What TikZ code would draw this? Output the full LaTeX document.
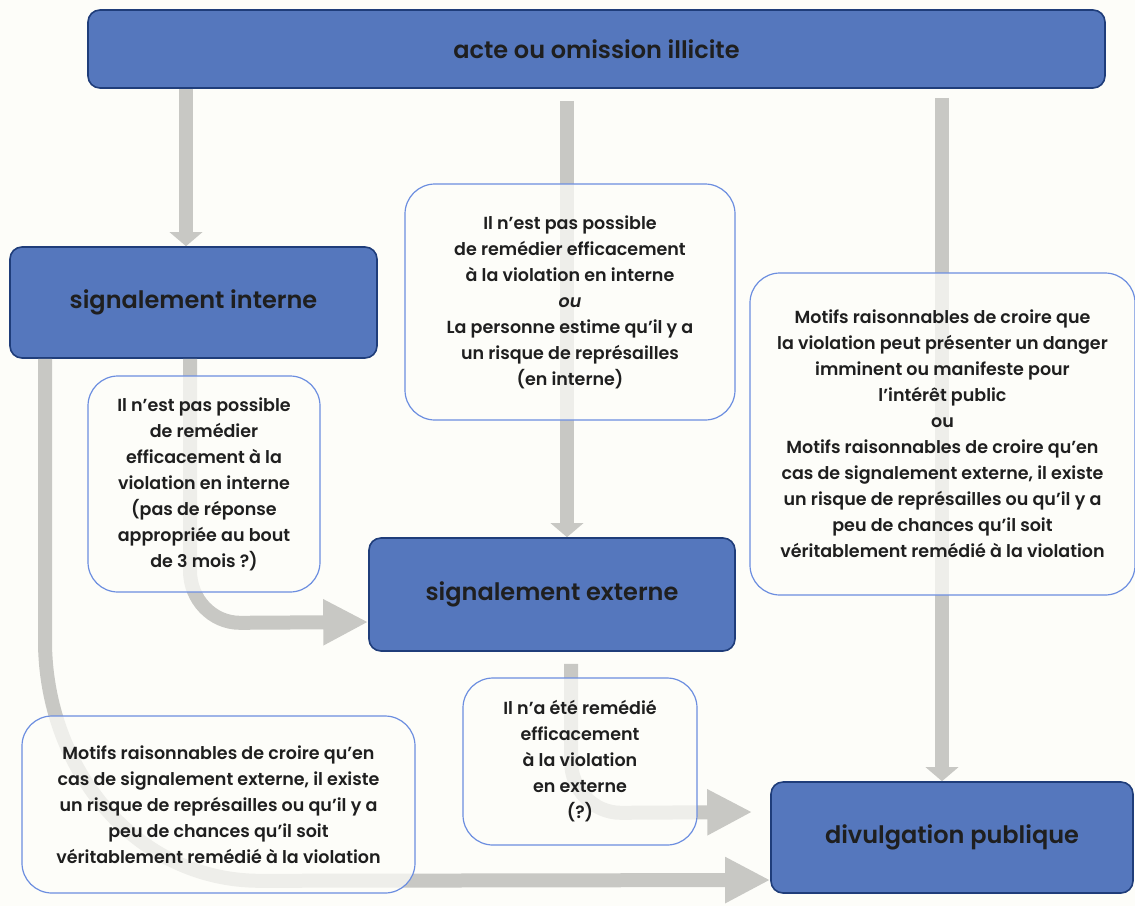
\documentclass[tikz,border=0pt]{standalone}
\usepackage{fontspec}
\setmainfont{Poppins}[BoldFont={Poppins SemiBold},ItalicFont={Poppins Italic},BoldItalicFont={Poppins SemiBold Italic}]
\usetikzlibrary{arrows.meta}
\definecolor{boxblue}{HTML}{5577BD}
\definecolor{boxline}{HTML}{1F3D7A}
\definecolor{noteline}{HTML}{6C8EE0}
\definecolor{flowgray}{HTML}{C8C8C4}
\definecolor{paper}{HTML}{FDFDF9}
\begin{document}
\begin{tikzpicture}[x=1pt,y=-1pt,
	stage/.style={ draw=boxline, line width=1.6pt, fill=boxblue, rounded corners=12pt, inner sep=0pt,
		font=\fontsize{24}{28}\selectfont\bfseries, text=black!88 },
	note/.style={ draw=noteline, line width=1.2pt, fill=paper, fill opacity=0.72, text opacity=1,
		rounded corners=30pt, inner sep=0pt, align=center,
		font=\fontsize{17.5}{26}\selectfont\bfseries, text=black!88 },
	flow/.style={ draw=flowgray, line width=14pt },
	tipsmall/.style={ -{Triangle[length=14pt,width=32pt]} },
	tipbig/.style={ -{Triangle[length=45pt,width=43pt]} }
]

\useasboundingbox[fill=paper] (0,0) rectangle (1135,906);

\node[stage, minimum width=1017pt, minimum height=78pt] at (596.5,49) (acte) {acte ou omission illicite};
\node[stage, minimum width=367pt, minimum height=111pt] at (193.5,302.5) (sigint) {signalement interne};
\node[stage, minimum width=366pt, minimum height=113pt] at (552,594.5) (sigext) {signalement externe};
\node[stage, minimum width=362pt, minimum height=111pt] at (952,837.5) (divpub) {divulgation publique};

% arrows go under the notes
\draw[flow,tipsmall] ([xshift=-410.5pt]acte.south) -- ([xshift=-7.5pt]sigint.north);
\draw[flow,tipsmall] ([xshift=-29.5pt,yshift=-12pt]acte.south) -- ([xshift=15pt]sigext.north);
\draw[flow,tipsmall] ([xshift=345.5pt,yshift=-9pt]acte.south) -- ([xshift=-10pt]divpub.north);
\draw[flow,tipbig] ([xshift=-3.5pt]sigint.south) -- ++(0,212)
  to[out=-90,in=180] ++(50,52) -- ([yshift=-27.5pt]sigext.west);
\draw[flow,tipbig] ([xshift=-148.5pt]sigint.south) -- ++(0,282)
  to[out=-90,in=180] ++(215,240) -- ([yshift=-42.5pt]divpub.west);
\draw[flow,tipbig] ([xshift=19pt,yshift=-12pt]sigext.south) -- ++(0,97)
  to[out=-90,in=180] ++(50,52) -- ([xshift=-18pt,yshift=25.5pt]divpub.west);

\node[note, minimum width=330pt, minimum height=236pt] at (570,302) (nointerne) {Il n’est pas possible\\de remédier efficacement\\à la violation en interne\\\textit{ou}\\La personne estime qu’il y a\\un risque de représailles\\(en interne)};
\node[note, minimum width=232pt, minimum height=216pt] at (204,484) (delai) {Il n’est pas possible\\de remédier\\efficacement à la\\violation en interne\\(pas de réponse\\appropriée au bout\\de 3 mois ?)};
\node[note, minimum width=385pt, minimum height=322pt] at (942.5,434) (danger) {Motifs raisonnables de croire que\\la violation peut présenter un danger\\imminent ou manifeste pour\\l’intérêt public\\ou\\Motifs raisonnables de croire qu’en\\cas de signalement externe, il existe\\un risque de représailles ou qu’il y a\\peu de chances qu’il soit\\véritablement remédié à la violation};
\node[note, minimum width=393pt, minimum height=177pt] at (218.5,804.5) (motifs) {Motifs raisonnables de croire qu’en\\cas de signalement externe, il existe\\un risque de représailles ou qu’il y a\\peu de chances qu’il soit\\véritablement remédié à la violation};
\node[note, minimum width=234pt, minimum height=167pt] at (580,761.5) (noexterne) {Il n’a été remédié\\efficacement\\à la violation\\en externe\\(?)};

\end{tikzpicture}
\end{document}
